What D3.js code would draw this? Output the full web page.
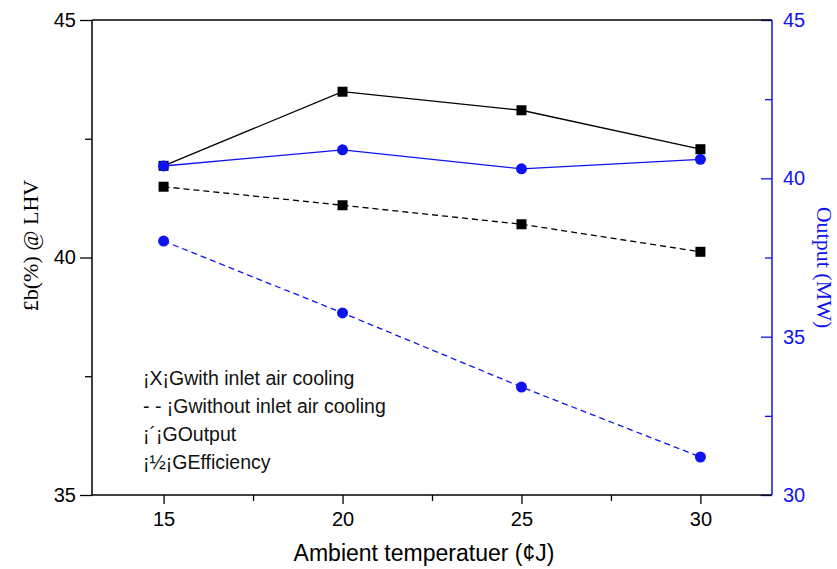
<!DOCTYPE html>
<html>
<head>
<meta charset="utf-8">
<script src="https://cdn.jsdelivr.net/npm/d3@7"></script>
<style>
  body { margin: 0; background: #fff; }
  svg { display: block; }
</style>
</head>
<body>
<div id="chart"></div>
<script>
// data
const temps = [15, 20, 25, 30];
const effWith = [41.93, 43.49, 43.1, 42.28];
const effWithout = [41.49, 41.1, 40.7, 40.12];
const outWith = [40.39, 40.9, 40.3, 40.6];
const outWithout = [38.02, 35.75, 33.41, 31.2];

const xTicks = [15, 20, 25, 30];
const xMinor = [17.5, 22.5, 27.5];
const yLeftTicks = [35, 40, 45];
const yLeftMinor = [37.5, 42.5];
const yRightTicks = [30, 35, 40, 45];
const yRightMinor = [32.5, 37.5, 42.5];

const legendLines = [
    '¡X¡Gwith inlet air cooling',
    '- - ¡Gwithout inlet air cooling',
    '¡´¡GOutput',
    '¡½¡GEfficiency'
];

(function(){
    const margin = { top: 20, left: 92, bottom: 74, right: 65 };
    const fullWidth = 837, fullHeight = 569;
    const width = fullWidth - margin.left - margin.right;
    const height = fullHeight - margin.top - margin.bottom;
    const blue = '#0f14ee';

    const svg = d3.select('#chart')
        .append('svg')
            .attr('width', fullWidth)
            .attr('height', fullHeight)
        .append('g')
            .attr('transform', `translate(${margin.left}, ${margin.top})`);

    const xScale = d3.scaleLinear().domain([13, 32]).range([0, width]);
    const yLeft = d3.scaleLinear().domain([35, 45]).range([height, 0]);
    const yRight = d3.scaleLinear().domain([30, 45]).range([height, 0]);

    const font = '"Liberation Sans", Arial, sans-serif';
    const serif = '"Liberation Serif", "Times New Roman", serif';

    function styleAxis(g, color) {
        g.select('.domain').remove();
        g.selectAll('line').attr('stroke', color).attr('stroke-width', 1.3);
        g.selectAll('text')
            .attr('fill', color)
            .style('font-family', font)
            .style('font-size', '20px');
    }

    // bottom axis
    svg.append('g')
            .attr('transform', `translate(0, ${height})`)
        .call(d3.axisBottom(xScale).tickValues(xTicks).tickSize(9).tickPadding(8))
        .call(g => styleAxis(g, '#000'));
    svg.append('g')
            .attr('transform', `translate(0, ${height})`)
        .call(d3.axisBottom(xScale).tickValues(xMinor).tickSize(6).tickFormat(''))
        .call(g => styleAxis(g, '#000'));

    // left axis
    svg.append('g')
        .call(d3.axisLeft(yLeft).tickValues(yLeftTicks).tickSize(12).tickPadding(4))
        .call(g => styleAxis(g, '#000'));
    svg.append('g')
        .call(d3.axisLeft(yLeft).tickValues(yLeftMinor).tickSize(7).tickFormat(''))
        .call(g => styleAxis(g, '#000'));

    // right axis, ticks pointing inward
    svg.append('g')
            .attr('transform', `translate(${width}, 0)`)
        .call(d3.axisRight(yRight).tickValues(yRightTicks).tickSize(-11).tickPadding(11))
        .call(g => styleAxis(g, blue));
    svg.append('g')
            .attr('transform', `translate(${width}, 0)`)
        .call(d3.axisRight(yRight).tickValues(yRightMinor).tickSize(-7).tickFormat(''))
        .call(g => styleAxis(g, blue));

    // frame
    svg.append('line').attr('x1', 0).attr('x2', width).attr('y1', 0).attr('y2', 0)
        .attr('stroke', '#000').attr('stroke-width', 1.5);
    svg.append('line').attr('x1', 0).attr('x2', width).attr('y1', height).attr('y2', height)
        .attr('stroke', '#000').attr('stroke-width', 1.5);
    svg.append('line').attr('x1', 0).attr('x2', 0).attr('y1', 0).attr('y2', height)
        .attr('stroke', '#000').attr('stroke-width', 1.5);
    svg.append('line').attr('x1', width).attr('x2', width).attr('y1', 0).attr('y2', height)
        .attr('stroke', blue).attr('stroke-width', 1.5);

    const series = [
        { values: effWith, y: yLeft, color: '#000', dash: null, shape: 'square' },
        { values: effWithout, y: yLeft, color: '#000', dash: '6,4', shape: 'square' },
        { values: outWith, y: yRight, color: blue, dash: null, shape: 'circle' },
        { values: outWithout, y: yRight, color: blue, dash: '6,4', shape: 'circle' }
    ];

    series.forEach(s => {
        const pts = temps.map((t, i) => [xScale(t), s.y(s.values[i])]);
        svg.append('path')
            .attr('d', d3.line()(pts))
            .attr('fill', 'none')
            .attr('stroke', s.color)
            .attr('stroke-width', 1.3)
            .attr('stroke-dasharray', s.dash);
    });

    series.forEach(s => {
        const pts = temps.map((t, i) => [xScale(t), s.y(s.values[i])]);
        if (s.shape === 'square') {
            svg.selectAll(null)
                .data(pts)
                .enter()
                .append('rect')
                    .attr('x', d => d[0] - 5)
                    .attr('y', d => d[1] - 5)
                    .attr('width', 10)
                    .attr('height', 10)
                    .attr('fill', s.color);
        } else {
            svg.selectAll(null)
                .data(pts)
                .enter()
                .append('circle')
                    .attr('cx', d => d[0])
                    .attr('cy', d => d[1])
                    .attr('r', 5.5)
                    .attr('fill', s.color);
        }
    });

    // legend
    svg.append('g')
        .selectAll('text')
        .data(legendLines)
        .enter()
        .append('text')
            .attr('x', 51)
            .attr('y', (d, i) => 365 + i * 28)
            .style('font-family', font)
            .style('font-size', '19.5px')
            .attr('fill', '#111')
            .text(d => d);

    // axis titles
    svg.append('text')
        .attr('x', width / 2 - 8)
        .attr('y', height + 66)
        .attr('text-anchor', 'middle')
        .style('font-family', font)
        .style('font-size', '23px')
        .text('Ambient temperatuer (¢J)');

    svg.append('text')
        .attr('transform', `translate(-54, ${yLeft(40) - 12}) rotate(-90)`)
        .attr('text-anchor', 'middle')
        .style('font-family', serif)
        .style('font-size', '22px')
        .text('£b(%) @ LHV');

    svg.append('text')
        .attr('transform', `translate(${width + 45}, ${height / 2 + 10}) rotate(90)`)
        .attr('text-anchor', 'middle')
        .attr('fill', blue)
        .style('font-family', serif)
        .style('font-size', '22px')
        .text('Output (MW)');
}())
</script>
</body>
</html>
